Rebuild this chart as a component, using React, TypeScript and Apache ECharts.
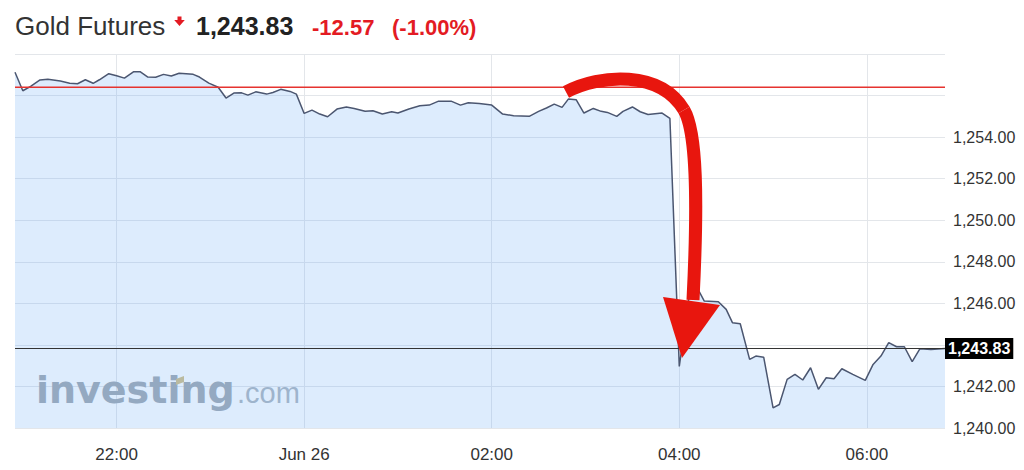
import React, { useEffect, useRef } from "react";
import * as echarts from "echarts";

// ---- data ----
const times = [
  "20:55", "21:00", "21:05", "21:11", "21:16", "21:24", "21:30", "21:35", "21:40", "21:45",
  "21:49", "21:55", "22:00", "22:05", "22:11", "22:15", "22:20", "22:25", "22:30", "22:35",
  "22:40", "22:49", "22:53", "22:59", "23:05", "23:10", "23:15", "23:20", "23:24", "23:29",
  "23:36", "23:40", "23:45", "23:51", "23:55", "00:00", "00:05", "00:10", "00:15", "00:21",
  "00:27", "00:32", "00:39", "00:44", "00:50", "00:56", "01:00", "01:07", "01:14", "01:20",
  "01:26", "01:34", "01:40", "01:45", "01:52", "02:00", "02:07", "02:14", "02:24", "02:30",
  "02:35", "02:40", "02:45", "02:49", "02:54", "02:59", "03:05", "03:10", "03:14", "03:20",
  "03:24", "03:30", "03:35", "03:40", "03:49", "03:54", "04:00", "04:06", "04:12", "04:16",
  "04:25", "04:30", "04:34", "04:39", "04:45", "04:49", "04:54", "05:00", "05:04", "05:09",
  "05:14", "05:19", "05:24", "05:29", "05:34", "05:39", "05:44", "05:51", "05:59", "06:04",
  "06:09", "06:14", "06:19", "06:24", "06:29", "06:34", "06:41", "06:50",
];
const prices = [
  1257.12, 1256.23, 1256.44, 1256.75, 1256.78, 1256.7, 1256.59, 1256.57, 1256.76, 1256.59,
  1256.76, 1257.05, 1256.95, 1256.84, 1257.15, 1257.15, 1256.89, 1256.88, 1257.02, 1256.94,
  1257.07, 1257.02, 1256.89, 1256.6, 1256.4, 1255.88, 1256.12, 1256.13, 1256.02, 1256.18,
  1256.07, 1256.15, 1256.3, 1256.2, 1256.07, 1255.14, 1255.3, 1255.11, 1254.98, 1255.35,
  1255.45, 1255.38, 1255.24, 1255.27, 1255.11, 1255.22, 1255.16, 1255.35, 1255.51, 1255.54,
  1255.73, 1255.73, 1255.54, 1255.65, 1255.62, 1255.54, 1255.11, 1255.03, 1255.0, 1255.24,
  1255.4, 1255.59, 1255.43, 1255.83, 1255.8, 1255.16, 1255.38, 1255.24, 1255.19, 1255.0,
  1255.24, 1255.45, 1255.22, 1255.09, 1255.16, 1254.9, 1242.96, 1246.2, 1246.67, 1246.11,
  1246.08, 1245.71, 1245.07, 1245.02, 1243.3, 1243.46, 1243.41, 1240.97, 1241.13, 1242.34,
  1242.58, 1242.31, 1242.9, 1241.86, 1242.42, 1242.37, 1242.85, 1242.58, 1242.29, 1243.06,
  1243.46, 1244.11, 1243.91, 1243.91, 1243.19, 1243.82, 1243.78, 1243.83,
];
const xTickLabels = ["22:00", "Jun 26", "02:00", "04:00", "06:00"];
const xRange = ["20:55", "06:50"];
const yMin = 1240;
const yMax = 1258;
const yStep = 2;
const hiddenYLabels = [1244, 1256, 1258];
const previousClose = 1256.4;
const lastPrice = 1243.83;
const change = "-12.57";
const changePct = "(-1.00%)";
const title = "Gold Futures";

// minutes relative to Jun 26 00:00
function toMinutes(t: string): number {
  if (t === "Jun 26") return 0;
  const [h, m] = t.split(":").map(Number);
  return h >= 12 ? (h - 24) * 60 + m : h * 60 + m;
}
function fmtMinutes(v: number): string {
  if (v === 0) return "Jun 26";
  const m = ((v % 1440) + 1440) % 1440;
  const h = Math.floor(m / 60);
  const mm = m % 60;
  return String(h).padStart(2, "0") + ":" + String(mm).padStart(2, "0");
}
function fmtPrice(v: number): string {
  return v.toLocaleString("en-US", { minimumFractionDigits: 2, maximumFractionDigits: 2 });
}

const RED = "#e31b23";
const FONT = "Liberation Sans, Arial, sans-serif";

export default function App() {
  const ref = useRef<HTMLDivElement>(null);
  useEffect(() => {
    if (!ref.current) return;
    const chart = echarts.init(ref.current, null, { renderer: "svg" });
    const seriesData = times.map((t, i) => [toMinutes(t), prices[i]]);
    const tickVals = xTickLabels.map(toMinutes);
    const xMin = toMinutes(xRange[0]);
    const xMax = toMinutes(xRange[1]);

    chart.setOption({
      animation: false,
      backgroundColor: "#ffffff",
      grid: { left: 15, right: 79, top: 54, bottom: 42, containLabel: false, outerBoundsMode: "none" },
      xAxis: {
        type: "value",
        min: xMin,
        max: xMax,
        axisLine: { show: false },
        axisTick: { show: false, customValues: tickVals },
        axisLabel: {
          customValues: tickVals,
          formatter: (v: number) => fmtMinutes(v),
          color: "#333",
          fontSize: 17,
          fontFamily: FONT,
          margin: 18,
        },
        splitLine: { show: true, lineStyle: { color: "#e3e6ea", width: 1 } },
      },
      yAxis: {
        type: "value",
        position: "right",
        min: yMin,
        max: yMax,
        interval: yStep,
        axisLine: { show: false },
        axisTick: { show: false },
        axisLabel: {
          formatter: (v: number) => (hiddenYLabels.includes(v) ? "" : fmtPrice(v)),
          color: "#333",
          fontSize: 16,
          fontFamily: FONT,
          margin: 8,
        },
        splitLine: { show: true, lineStyle: { color: "#e3e6ea", width: 1 } },
      },
      series: [
        {
          name: "Gold Futures",
          type: "line",
          data: seriesData,
          showSymbol: false,
          symbol: "none",
          lineStyle: { color: "#4b5670", width: 1.5 },
          areaStyle: { color: "rgba(110,175,245,0.33)", origin: "start" },
          z: 2,
          markLine: {
            silent: true,
            symbol: ["none", "none"],
            animation: false,
            lineStyle: { color: "#333333", width: 1, type: "solid" },
            data: [
              {
                yAxis: lastPrice,
                label: {
                  show: true,
                  position: "end",
                  distance: 0,
                  formatter: fmtPrice(lastPrice),
                  backgroundColor: "#000",
                  color: "#fff",
                  fontWeight: "bold",
                  fontSize: 16,
                  fontFamily: FONT,
                  padding: [3, 3, 2, 3],
                },
              },
            ],
          },
        },
        {
          name: "Previous close",
          type: "line",
          data: [[xMin, previousClose], [xMax, previousClose]],
          showSymbol: false,
          symbol: "none",
          silent: true,
          z: 3,
          color: "#e6332f",
          lineStyle: { color: "#e6332f", width: 1.4, type: "solid" },
        },
      ],
      graphic: [
        // header
        { type: "text", x: 15, y: 26, style: { text: title, font: `26px ${FONT}`, fill: "#333", verticalAlign: "middle", textAlign: "left" } },
        { type: "polygon", shape: { points: [[177.5, 16.5], [181.5, 16.5], [181.5, 20], [184.8, 20], [179.5, 26], [174.2, 20], [177.5, 20]] }, style: { fill: RED } },
        { type: "text", x: 196, y: 26, style: { text: fmtPrice(lastPrice), font: `bold 25px ${FONT}`, fill: "#222", verticalAlign: "middle", textAlign: "left" } },
        { type: "text", x: 312, y: 27.5, style: { text: change, font: `bold 22px ${FONT}`, fill: RED, verticalAlign: "middle", textAlign: "left" } },
        { type: "text", x: 392, y: 27.5, style: { text: changePct, font: `bold 22px ${FONT}`, fill: RED, verticalAlign: "middle", textAlign: "left" } },
        // watermark
        { type: "text", x: 36, y: 390, z: 1, style: { text: "investing", font: `bold 38px DejaVu Sans, sans-serif`, fill: "#a0a8b2", verticalAlign: "middle", textAlign: "left" } },
        { type: "polygon", z: 1, shape: { points: [[176, 379], [184, 376], [184, 382], [176, 385]] }, style: { fill: "#d2bf86" } },
        { type: "text", x: 237, y: 393, z: 1, style: { text: ".com", font: `29px ${FONT}`, fill: "#aeb6c0", verticalAlign: "middle", textAlign: "left" } },
        // big red arrow
        { type: "bezierCurve", z: 10, shape: { x1: 566, y1: 92, cpx1: 600, cpy1: 74, cpx2: 660, cpy2: 70, x2: 684, y2: 110 }, style: { stroke: "#e8160e", lineWidth: 13, fill: null, lineCap: "butt" } },
        { type: "bezierCurve", z: 10, shape: { x1: 684, y1: 110, cpx1: 697, cpy1: 132, cpx2: 698, cpy2: 200, x2: 693, y2: 300 }, style: { stroke: "#e8160e", lineWidth: 13, fill: null, lineCap: "butt" } },
        { type: "polygon", z: 10, shape: { points: [[663, 297], [720, 305], [682, 358]] }, style: { fill: "#e8160e" } },
      ],
    });
    return () => chart.dispose();
  }, []);
  return <div ref={ref} style={{ position: "fixed", left: 0, top: 0, width: 1024, height: 470 }} />;
}
